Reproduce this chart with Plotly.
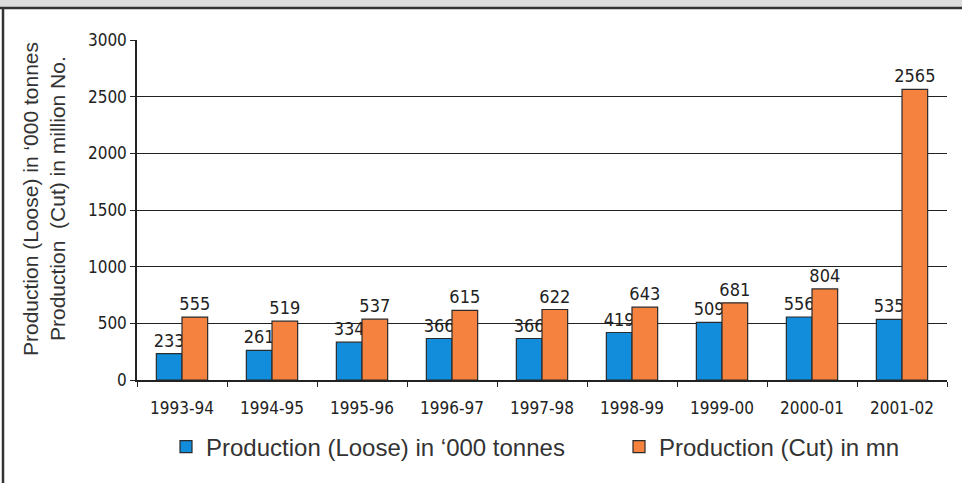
import plotly.graph_objects as go

years = ["1993-94", "1994-95", "1995-96", "1996-97", "1997-98",
         "1998-99", "1999-00", "2000-01", "2001-02"]
loose = [233, 261, 334, 366, 366, 419, 509, 556, 535]
cut = [555, 519, 537, 615, 622, 643, 681, 804, 2565]

W, H = 962, 483
L, R, T, B = 137, 15, 40, 103
pw, ph = W - L - R, H - T - B


def px_x(x):
    return (x - L) / pw


def px_y(y):
    return (H - B - y) / ph


num_font = "DejaVu Sans Condensed"
label_font = dict(family=num_font, size=18, color="#222")

fig = go.Figure()
fig.add_trace(go.Bar(
    x=years, y=loose, name="Production (Loose) in \u2018000 tonnes",
    marker=dict(color="#118ddb", line=dict(color="#2b2b2b", width=1.2)),
    text=loose, textposition="outside", textfont=label_font, cliponaxis=False,
    constraintext="none", legend="legend",
))
fig.add_trace(go.Bar(
    x=years, y=cut, name="Production (Cut) in mn",
    marker=dict(color="#f5823f", line=dict(color="#2b2b2b", width=1.2)),
    text=cut, textposition="outside", textfont=label_font, cliponaxis=False,
    constraintext="none", legend="legend2",
))

shapes = [
    # grey header band and its rule
    dict(type="rect", xref="paper", yref="paper",
         x0=px_x(-5), x1=px_x(W + 5), y0=px_y(8), y1=px_y(-5),
         fillcolor="#dcdcdc", line=dict(width=0), layer="below"),
    dict(type="line", xref="paper", yref="paper",
         x0=px_x(0), x1=px_x(W), y0=px_y(8), y1=px_y(8),
         line=dict(color="#333", width=2.5)),
    # left frame rule
    dict(type="line", xref="paper", yref="paper",
         x0=px_x(3), x1=px_x(3), y0=px_y(8), y1=px_y(H + 5),
         line=dict(color="#333", width=2.5)),
]

title_font = dict(family="Liberation Sans", size=21, color="#333")
annotations = [
    dict(text="Production (Loose) in \u2018000 tonnes", xref="paper", yref="paper",
         x=px_x(30), y=px_y(199), xanchor="center", yanchor="middle",
         textangle=-90, showarrow=False, font=title_font),
    dict(text="Production  (Cut) in million No.", xref="paper", yref="paper",
         x=px_x(57), y=px_y(199), xanchor="center", yanchor="middle",
         textangle=-90, showarrow=False, font=title_font),
]

leg_font = dict(family="Liberation Sans", size=24, color="#333")
fig.update_layout(
    width=W, height=H,
    margin=dict(l=L, r=R, t=T, b=B, pad=0, autoexpand=False),
    paper_bgcolor="white", plot_bgcolor="white",
    barmode="group", bargap=0.43, bargroupgap=0,
    shapes=shapes, annotations=annotations,
    showlegend=True,
    legend=dict(orientation="h", xref="container", yref="container",
                x=166 / W, y=1 - 447 / H, xanchor="left", yanchor="middle",
                font=leg_font, itemwidth=30),
    legend2=dict(orientation="h", xref="container", yref="container",
                 x=619 / W, y=1 - 447 / H, xanchor="left", yanchor="middle",
                 font=leg_font, itemwidth=30),
    xaxis=dict(type="category", showline=True, linecolor="#222", linewidth=1.5,
               ticks="outside", ticklen=5, tickcolor="#222", tickson="boundaries",
               ticklabelstandoff=12,
               tickfont=dict(family=num_font, size=17, color="#222"),
               showgrid=False),
    yaxis=dict(range=[0, 3000], dtick=500, showline=True, linecolor="#222", linewidth=1.5,
               ticks="outside", ticklen=5, tickcolor="#222",
               showgrid=True, gridcolor="#222", gridwidth=1.3,
               tickfont=dict(family=num_font, size=17, color="#222"),
               zeroline=False),
)

fig.write_html("out.html")
